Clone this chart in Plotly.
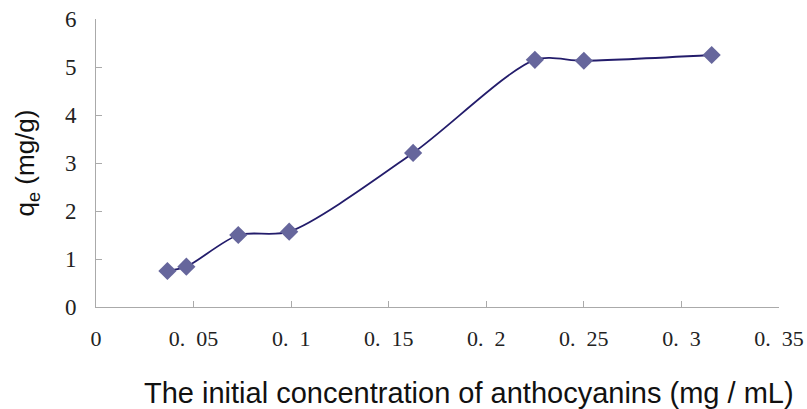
import plotly.graph_objects as go

# Data
conc = [0.0366, 0.0463, 0.0729, 0.0990, 0.1625, 0.2249, 0.2500, 0.3155]
qe = [0.75, 0.84, 1.50, 1.57, 3.21, 5.15, 5.13, 5.25]

x_tickvals = [0, 0.05, 0.1, 0.15, 0.2, 0.25, 0.3, 0.35]
x_ticktext = ["0", "0.\u00a0\u00a005", "0.\u00a0\u00a01", "0.\u00a0\u00a015",
              "0.\u00a0\u00a02", "0.\u00a0\u00a025", "0.\u00a0\u00a03", "0.\u00a0\u00a035"]
y_tickvals = [0, 1, 2, 3, 4, 5, 6]

fig = go.Figure()
fig.add_trace(go.Scatter(
    x=conc, y=qe, mode="lines",
    line=dict(color="#231c6b", width=1.8, shape="spline", smoothing=0.8),
    hoverinfo="skip", showlegend=False,
))
fig.add_trace(go.Scatter(
    x=conc, y=qe, mode="markers",
    marker=dict(symbol="diamond", size=14, color="#66669c", line=dict(width=0)),
    showlegend=False,
))

fig.update_layout(
    width=807, height=409,
    margin=dict(l=95.5, r=28, t=19, b=102, autoexpand=False),
    paper_bgcolor="white", plot_bgcolor="white",
    font=dict(family="Liberation Serif", color="#222222"),
)
fig.update_xaxes(
    range=[0, 0.35], tickvals=x_tickvals, ticktext=x_ticktext,
    showline=True, linecolor="#aaaaaa", linewidth=1,
    showgrid=False, zeroline=False, automargin=False,
    ticks="inside", ticklen=6, tickcolor="#aaaaaa",
    tickfont=dict(family="Liberation Serif", size=22, color="#222222"),
    ticklabelstandoff=12,
)
fig.update_yaxes(
    range=[0, 6], tickvals=y_tickvals,
    showline=True, linecolor="#aaaaaa", linewidth=1,
    showgrid=False, zeroline=False, automargin=False,
    ticks="inside", ticklen=6, tickcolor="#aaaaaa",
    tickfont=dict(family="Liberation Serif", size=23, color="#222222"),
    ticklabelstandoff=14,
    title=dict(text="q<sub>e</sub> (mg/g)", standoff=22,
               font=dict(family="Liberation Sans", size=26, color="#111111")),
)
fig.add_annotation(
    text="The initial concentration of anthocyanins (mg / mL)",
    xref="paper", yref="paper", x=0.546, y=-0.30,
    xanchor="center", yanchor="middle", showarrow=False,
    font=dict(family="Liberation Sans", size=29, color="#111111"),
)

fig.write_html("out.html")
